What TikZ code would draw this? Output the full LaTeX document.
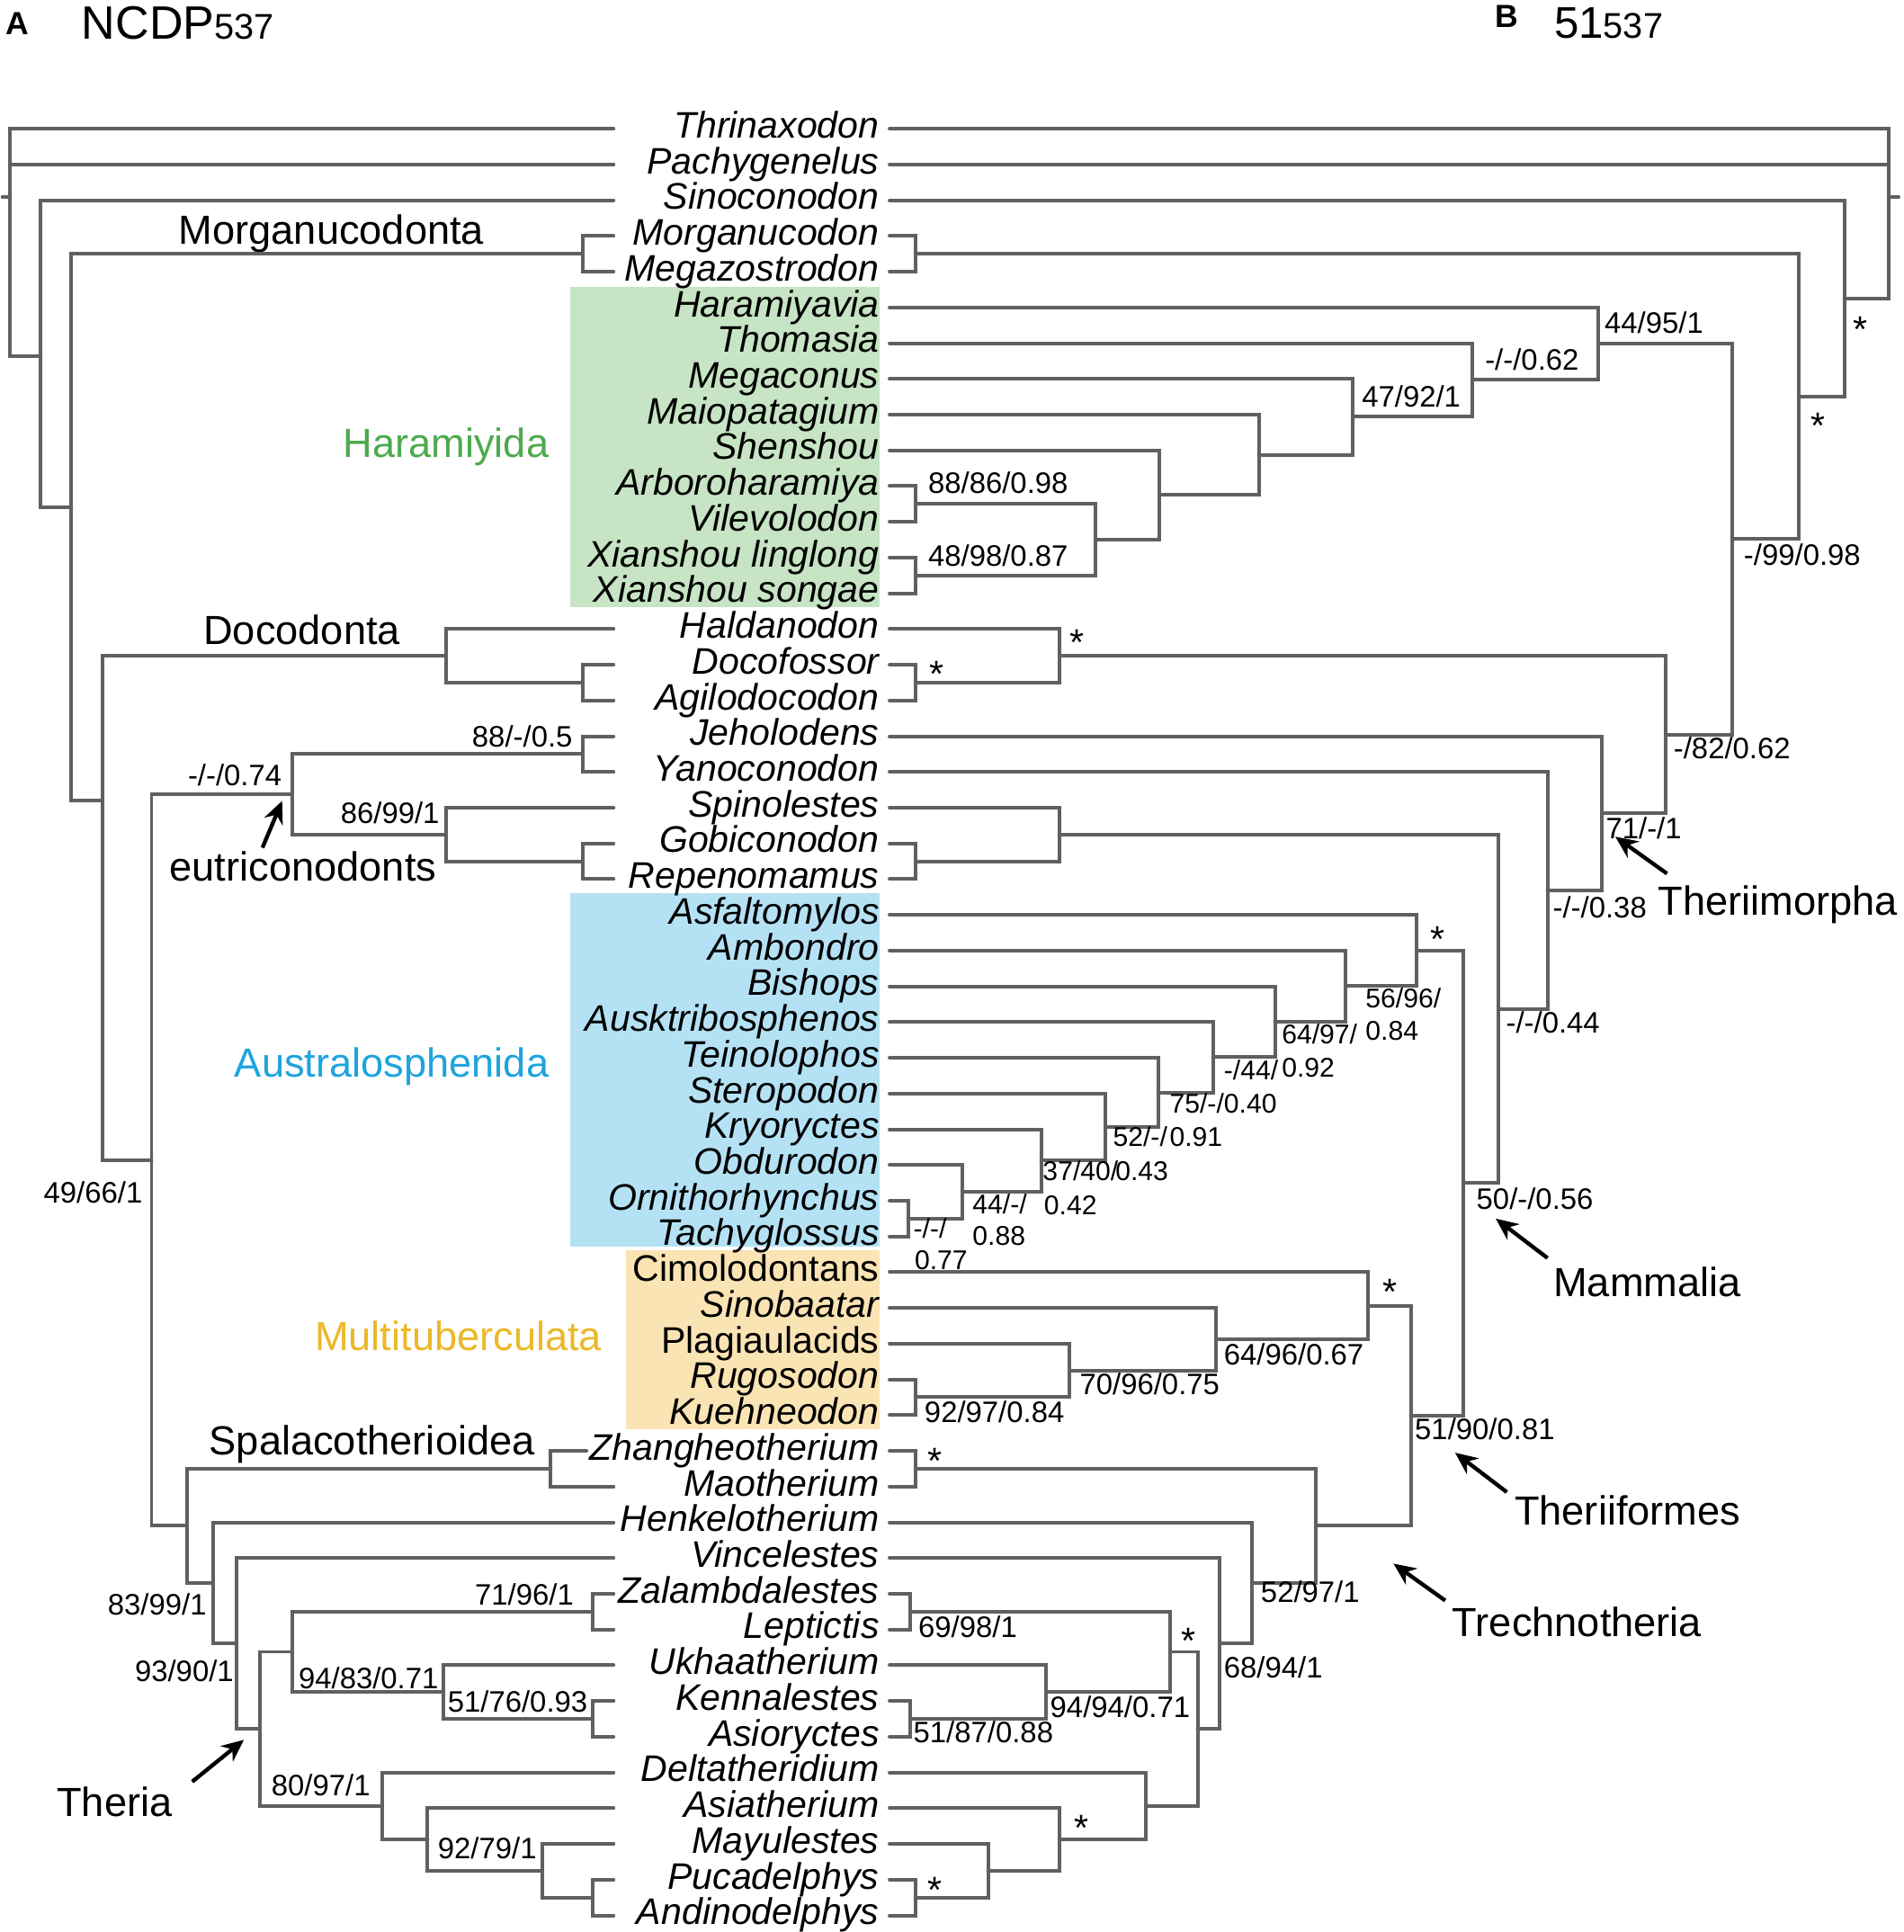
\documentclass[tikz,border=0pt]{standalone}
\usepackage{fontspec}
\setmainfont{Liberation Sans}
\usetikzlibrary{arrows.meta}
\definecolor{branchc}{RGB}{96,96,96}
\definecolor{hbox}{RGB}{199,228,196}
\definecolor{abox}{RGB}{180,226,244}
\definecolor{mbox}{RGB}{250,228,180}
\definecolor{htext}{RGB}{77,170,77}
\definecolor{atext}{RGB}{30,164,222}
\definecolor{mtext}{RGB}{236,184,40}
\newcommand\kids[2]{\foreach \kk in {#2}{\draw[br] (\kk) -| (#1);}}
\begin{document}
\begin{tikzpicture}[x=0.5pt,y=-0.5pt,
 br/.style={draw=branchc,line width=1.45pt,line cap=round},
 taxon/.style={anchor=base east,inner sep=0pt,font=\fontsize{15pt}{15pt}\selectfont\itshape},
 grp/.style={anchor=base,inner sep=0pt,font=\fontsize{16.5pt}{16.5pt}\selectfont},
 supw/.style={anchor=base west,inner sep=0pt,font=\fontsize{12pt}{12pt}\selectfont},
 supe/.style={anchor=base east,inner sep=0pt,font=\fontsize{12pt}{12pt}\selectfont},
 supa/.style={anchor=base west,inner sep=0pt,font=\fontsize{11pt}{11pt}\selectfont},
 star/.style={anchor=base,inner sep=0pt,font=\fontsize{15pt}{15pt}\selectfont},
 arr/.style={-{Stealth[length=9pt,width=8pt]},line width=1.6pt,draw=black}]
\useasboundingbox (0,0) rectangle (1545,1568);
\fill[white] (0,0) rectangle (1545,1568);

% coloured boxes
\fill[hbox] (463,233) rectangle (714,493);
\fill[abox] (463,725) rectangle (714,1012);
\fill[mbox] (508,1015) rectangle (714,1160);

% headers
\node[anchor=base west,inner sep=0pt,font=\fontsize{13pt}{13pt}\selectfont\bfseries] (hA) at (4,28) {A};
\node[anchor=base west,inner sep=0pt,font=\fontsize{19pt}{19pt}\selectfont] (hN) at (66,32) {NCDP{\fontsize{14.5pt}{14.5pt}\selectfont 537}};
\node[anchor=base west,inner sep=0pt,font=\fontsize{13pt}{13pt}\selectfont\bfseries] (hB) at (1213,22) {B};
\node[anchor=base west,inner sep=0pt,font=\fontsize{18pt}{18pt}\selectfont] (h51) at (1261,31) {51{\fontsize{14.5pt}{14.5pt}\selectfont 537}};

% taxa
\foreach \n/\t [count=\i from 0] in {Thr/Thrinaxodon, Pac/Pachygenelus, Sin/Sinoconodon, Mor/Morganucodon, Meg/Megazostrodon, Har/Haramiyavia, Tho/Thomasia, Megc/Megaconus, Maio/Maiopatagium, She/Shenshou, Arb/Arboroharamiya, Vil/Vilevolodon, Xl/{Xianshou linglong\hspace{4pt}}, Xs/{Xianshou songae\hspace{4pt}}, Hal/Haldanodon, Docf/Docofossor, Agi/Agilodocodon, Jeh/Jeholodens, Yan/Yanoconodon, Spi/Spinolestes, Gob/Gobiconodon, Rep/Repenomamus, Asf/Asfaltomylos, Amb/Ambondro, Bis/Bishops, Ausk/Ausktribosphenos, Tei/Teinolophos, Ste/Steropodon, Kry/Kryoryctes, Obd/Obdurodon, Orn/Ornithorhynchus, Tac/Tachyglossus, Cim/{\upshape Cimolodontans}, Sino/Sinobaatar, Pla/{\upshape Plagiaulacids}, Rug/Rugosodon, Kue/Kuehneodon, Zha/Zhangheotherium, Mao/Maotherium, Hen/Henkelotherium, Vin/Vincelestes, Zal/Zalambdalestes, Lep/Leptictis, Ukh/Ukhaatherium, Ken/Kennalestes, Asi/Asioryctes, Del/Deltatheridium, Asia/Asiatherium, May/Mayulestes, Puc/Pucadelphys, And/Andinodelphys}
{
 \pgfmathsetmacro\yy{104.5+29*\i}
 \node[taxon] (t\n) at (714,\yy+7.5) {\t};
 \coordinate (l\n) at (498,\yy);
 \coordinate (r\n) at (722,\yy);
}
\coordinate (lZha) at (476,1177.5);

% group labels
\node[grp] (gMor) at (269,198) {Morganucodonta};
\node[grp,text=htext] (gHar) at (362,371) {Haramiyida};
\node[grp] (gDoc) at (245,523) {Docodonta};
\node[grp] (gEut) at (246,715) {eutriconodonts};
\node[grp,text=atext] (gAus) at (318,874) {Australosphenida};
\node[grp,text=mtext] (gMul) at (372,1096) {Multituberculata};
\node[grp] (gSpa) at (302,1181) {Spalacotherioidea};
\node[grp] (gThe) at (93,1474) {Theria};
\node[grp] (gThm) at (1443,743) {Theriimorpha};
\node[grp] (gMam) at (1337,1052) {Mammalia};
\node[grp] (gThf) at (1321,1238) {Theriiformes};
\node[grp] (gTre) at (1280,1328) {Trechnotheria};

% ---------- left tree (A) ----------
\coordinate (lnRoot) at (8,160);
\coordinate (lnN1) at (33,289);
\coordinate (lnN2) at (58,412);
\coordinate (lnN3) at (83,650);
\coordinate (lnMor) at (473,206);
\coordinate (lnDocA) at (473,554);
\coordinate (lnDoc) at (362,532.25);
\coordinate (lnJY) at (473,612);
\coordinate (lnGR) at (473,699);
\coordinate (lnSGR) at (362,677.25);
\coordinate (lnEut) at (237,644.6);
\coordinate (lnN4) at (123,941.5);
\coordinate (lnSpa) at (447,1192);
\coordinate (lnZL) at (481,1308);
\coordinate (lnKA) at (481,1395);
\coordinate (lnUKA) at (360,1373.25);
\coordinate (lnEu) at (237,1340.6);
\coordinate (lnPA) at (481,1540);
\coordinate (lnMPA) at (440,1518.25);
\coordinate (lnAMPA) at (347,1492.9);
\coordinate (lnMet) at (310,1465.7);
\coordinate (lnTher) at (211,1403.2);
\coordinate (lnN7) at (192,1333.8);
\coordinate (lnN6) at (173,1284.7);
\coordinate (lnN5) at (152,1238.3);

\kids{lnRoot}{lThr,lPac,lnN1}
\draw[br] (lnRoot) -- ++(-6,0);
\kids{lnN1}{lSin,lnN2}
\kids{lnN2}{lnMor,lnN3}
\kids{lnMor}{lMor,lMeg}
\kids{lnN3}{lnDoc,lnN4}
\kids{lnDoc}{lHal,lnDocA}
\kids{lnDocA}{lDocf,lAgi}
\kids{lnN4}{lnEut,lnN5}
\kids{lnEut}{lnJY,lnSGR}
\kids{lnJY}{lJeh,lYan}
\kids{lnSGR}{lSpi,lnGR}
\kids{lnGR}{lGob,lRep}
\kids{lnN5}{lnSpa,lnN6}
\kids{lnSpa}{lZha,lMao}
\kids{lnN6}{lHen,lnN7}
\kids{lnN7}{lVin,lnTher}
\kids{lnTher}{lnEu,lnMet}
\kids{lnEu}{lnZL,lnUKA}
\kids{lnZL}{lZal,lLep}
\kids{lnUKA}{lUkh,lnKA}
\kids{lnKA}{lKen,lAsi}
\kids{lnMet}{lDel,lnAMPA}
\kids{lnAMPA}{lAsia,lnMPA}
\kids{lnMPA}{lMay,lnPA}
\kids{lnPA}{lPuc,lAnd}

% left support values
\node[supe] (sl1) at (465,606.6) {88/-/0.5};
\node[supe] (sl2) at (357,668.6) {86/99/1};
\node[supe] (sl3) at (229,637.6) {-/-/0.74};
\node[supe] (sl4) at (116,976.6) {49/66/1};
\node[supe] (sl5) at (168,1310.6) {83/99/1};
\node[supe] (sl6) at (190,1364.6) {93/90/1};
\node[supe] (sl7) at (466,1302.6) {71/96/1};
\node[supw] (sl8) at (242,1370.6) {94/83/0.71};
\node[supw] (sl9) at (363,1389.6) {51/76/0.93};
\node[supw] (sl10) at (220,1457.6) {80/97/1};
\node[supw] (sl11) at (355,1508.6) {92/79/1};

% ---------- right tree (B) ----------
\coordinate (rnRoot) at (1533,160);
\coordinate (rn1497) at (1497,242.1);
\coordinate (rn1460) at (1460,321.8);
\coordinate (rn1406) at (1406,437.6);
\coordinate (rn1352) at (1352,596.1);
\coordinate (rn1300) at (1300,660);
\coordinate (rn1256) at (1256,722.6);
\coordinate (rn1216) at (1216,818.75);
\coordinate (rnMam) at (1188,960.25);
\coordinate (rnMor) at (743,206);
\coordinate (rnHar) at (1297,279);
\coordinate (rn1195) at (1195,308.4);
\coordinate (rn1098) at (1098,338.3);
\coordinate (rn1022) at (1022,369.1);
\coordinate (rn941) at (941,401.75);
\coordinate (rn889) at (889,438);
\coordinate (rnAV) at (743,409);
\coordinate (rnXX) at (743,467);
\coordinate (rnDoc) at (860,532.25);
\coordinate (rnDocA) at (743,554);
\coordinate (rnSGR) at (860,677.25);
\coordinate (rnGR) at (743,699);
\coordinate (rnAus) at (1150,771.5);
\coordinate (rn1092) at (1092,800.4);
\coordinate (rn1035) at (1035,829.3);
\coordinate (rn985) at (985,858);
\coordinate (rn940) at (940,886.6);
\coordinate (rn897) at (897,914.7);
\coordinate (rn845) at (845,941.9);
\coordinate (rn781) at (781,967.25);
\coordinate (rnOT) at (737,989);
\coordinate (rnThf) at (1145,1149);
\coordinate (rnMul) at (1110,1059.7);
\coordinate (rn987) at (987,1086.9);
\coordinate (rn868) at (868,1112.25);
\coordinate (rnRK) at (743,1134);
\coordinate (rnTrech) at (1068,1238.3);
\coordinate (rnSpa) at (743,1192);
\coordinate (rn1016) at (1016,1284.7);
\coordinate (rn990) at (990,1333.8);
\coordinate (rnTher) at (972,1403.2);
\coordinate (rnEu) at (950,1340.6);
\coordinate (rnZL) at (739,1308);
\coordinate (rnUKA) at (849,1373.25);
\coordinate (rnKA) at (739,1395);
\coordinate (rnMet) at (930,1465.7);
\coordinate (rnAMPA) at (860,1492.9);
\coordinate (rnMPA) at (802,1518.25);
\coordinate (rnPA) at (743,1540);

\kids{rnRoot}{rThr,rPac,rn1497}
\draw[br] (rnRoot) -- ++(8,0);
\kids{rn1497}{rSin,rn1460}
\kids{rn1460}{rnMor,rn1406}
\kids{rnMor}{rMor,rMeg}
\kids{rn1406}{rnHar,rn1352}
\kids{rnHar}{rHar,rn1195}
\kids{rn1195}{rTho,rn1098}
\kids{rn1098}{rMegc,rn1022}
\kids{rn1022}{rMaio,rn941}
\kids{rn941}{rShe,rn889}
\kids{rn889}{rnAV,rnXX}
\kids{rnAV}{rArb,rVil}
\kids{rnXX}{rXl,rXs}
\kids{rn1352}{rnDoc,rn1300}
\kids{rnDoc}{rHal,rnDocA}
\kids{rnDocA}{rDocf,rAgi}
\kids{rn1300}{rJeh,rn1256}
\kids{rn1256}{rYan,rn1216}
\kids{rn1216}{rnSGR,rnMam}
\kids{rnSGR}{rSpi,rnGR}
\kids{rnGR}{rGob,rRep}
\kids{rnMam}{rnAus,rnThf}
\kids{rnAus}{rAsf,rn1092}
\kids{rn1092}{rAmb,rn1035}
\kids{rn1035}{rBis,rn985}
\kids{rn985}{rAusk,rn940}
\kids{rn940}{rTei,rn897}
\kids{rn897}{rSte,rn845}
\kids{rn845}{rKry,rn781}
\kids{rn781}{rObd,rnOT}
\kids{rnOT}{rOrn,rTac}
\kids{rnThf}{rnMul,rnTrech}
\kids{rnMul}{rCim,rn987}
\kids{rn987}{rSino,rn868}
\kids{rn868}{rPla,rnRK}
\kids{rnRK}{rRug,rKue}
\kids{rnTrech}{rnSpa,rn1016}
\kids{rnSpa}{rZha,rMao}
\kids{rn1016}{rHen,rn990}
\kids{rn990}{rVin,rnTher}
\kids{rnTher}{rnEu,rnMet}
\kids{rnEu}{rnZL,rnUKA}
\kids{rnZL}{rZal,rLep}
\kids{rnUKA}{rUkh,rnKA}
\kids{rnKA}{rKen,rAsi}
\kids{rnMet}{rDel,rnAMPA}
\kids{rnAMPA}{rAsia,rnMPA}
\kids{rnMPA}{rMay,rnPA}
\kids{rnPA}{rPuc,rAnd}

% right support values
\node[supw] (sr1) at (753,400.6) {88/86/0.98};
\node[supw] (sr2) at (753,459.6) {48/98/0.87};
\node[supw] (sr3) at (1105,330.6) {47/92/1};
\node[supw] (sr4) at (1205,300.6) {-/-/0.62};
\node[supw] (sr5) at (1302,270.6) {44/95/1};
\node[supw] (sr6) at (1415,458.6) {-/99/0.98};
\node[supw] (sr7) at (1358,615.6) {-/82/0.62};
\node[supw] (sr8) at (1303,680.6) {71/-/1};
\node[supw] (sr9) at (1260,744.6) {-/-/0.38};
\node[supw] (sr10) at (1222,838.6) {-/-/0.44};
\node[supw] (sr11) at (1198,981.6) {50/-/0.56};
\node[supw] (sr12) at (1148,1168.6) {51/90/0.81};
\node[supw] (sr13) at (993,1107.6) {64/96/0.67};
\node[supw] (sr14) at (876,1131.6) {70/96/0.75};
\node[supw] (sr15) at (750,1154.6) {92/97/0.84};
\node[supw] (sr16) at (1023,1300.6) {52/97/1};
\node[supw] (sr17) at (993,1361.6) {68/94/1};
\node[supw] (sr18) at (745,1328.6) {69/98/1};
\node[supw] (sr19) at (852,1393.6) {94/94/0.71};
\node[supw] (sr20) at (741,1414.6) {51/87/0.88};

% Australosphenida two-line values
\node[supa] (sa1) at (1108,818) {56/96/};
\node[supa] (sa1b) at (1108,844) {0.84};
\node[supa] (sa2) at (1040,847) {64/97/};
\node[supa] (sa2b) at (1040,874) {0.92};
\node[supa] (sa3) at (993,876) {-/44/};
\node[supa] (sa3b) at (993,903) {0.40};
\node[supa] (sa4) at (949,903) {75/-/};
\node[supa] (sa4b) at (949,930) {0.91};
\node[supa] (sa5) at (903,930) {52/-/};
\node[supa] (sa5b) at (905,958) {0.43};
\node[supa] (sa6) at (846,958) {37/40/};
\node[supa] (sa6b) at (847,986) {0.42};
\node[supa] (sa7) at (789,985) {44/-/};
\node[supa] (sa7b) at (789,1011) {0.88};
\node[supa] (sa8) at (741,1005) {-/-/};
\node[supa] (sa8b) at (742,1030) {0.77};

% asterisks
\node[star] (st1) at (1510,278) {*};
\node[star] (st2) at (1476,356) {*};
\node[star] (st3) at (874,532) {*};
\node[star] (st4) at (760,557) {*};
\node[star] (st5) at (1167,773) {*};
\node[star] (st6) at (1128,1059) {*};
\node[star] (st7) at (759,1196) {*};
\node[star] (st8) at (965,1342) {*};
\node[star] (st9) at (878,1494) {*};
\node[star] (st10) at (759,1544) {*};

% arrows
\coordinate (aEut0) at (213,688); \coordinate (aEut1) at (229,650);
\coordinate (aThm0) at (1353,709); \coordinate (aThm1) at (1311,679);
\coordinate (aMam0) at (1256,1021); \coordinate (aMam1) at (1214,989);
\coordinate (aThf0) at (1223,1211); \coordinate (aThf1) at (1181,1179);
\coordinate (aTre0) at (1173,1299); \coordinate (aTre1) at (1131,1269);
\coordinate (aThe0) at (156,1446); \coordinate (aThe1) at (198,1412);
\draw[arr] (aEut0) -- (aEut1);
\draw[arr] (aThm0) -- (aThm1);
\draw[arr] (aMam0) -- (aMam1);
\draw[arr] (aThf0) -- (aThf1);
\draw[arr] (aTre0) -- (aTre1);
\draw[arr] (aThe0) -- (aThe1);
\end{tikzpicture}
\end{document}
